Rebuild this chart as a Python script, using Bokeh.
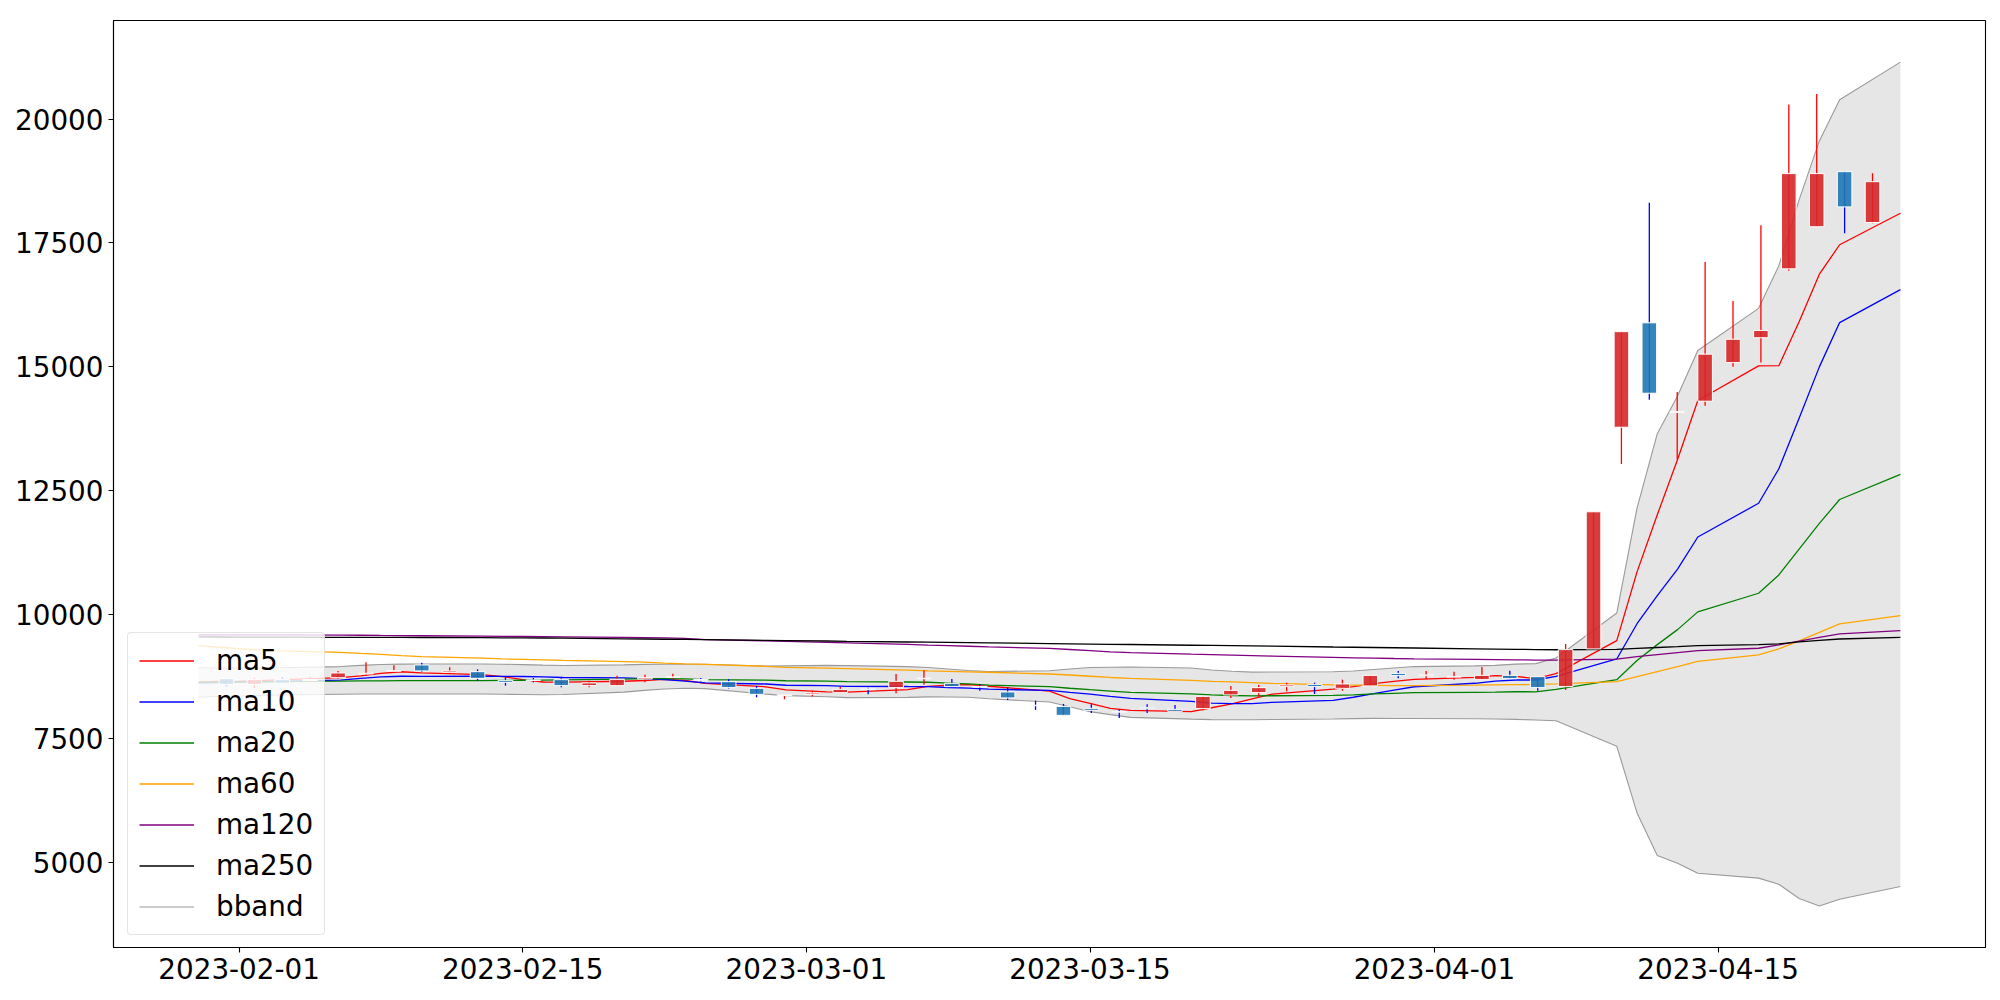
import numpy as np
import pandas as pd
from bokeh.plotting import figure
from bokeh.models import (Range1d, FixedTicker, DatetimeTickFormatter, Legend, LegendItem)
from bokeh.embed import file_html
from bokeh.resources import INLINE

dates = ["2023-01-30", "2023-01-31", "2023-02-01", "2023-02-02", "2023-02-03", "2023-02-06", "2023-02-07",
         "2023-02-08", "2023-02-09", "2023-02-10", "2023-02-13", "2023-02-14", "2023-02-15", "2023-02-16",
         "2023-02-17", "2023-02-20", "2023-02-21", "2023-02-22", "2023-02-23", "2023-02-24", "2023-02-27",
         "2023-02-28", "2023-03-02", "2023-03-03", "2023-03-06", "2023-03-07", "2023-03-08", "2023-03-09",
         "2023-03-10", "2023-03-13", "2023-03-14", "2023-03-15", "2023-03-16", "2023-03-17", "2023-03-20",
         "2023-03-21", "2023-03-22", "2023-03-23", "2023-03-24", "2023-03-27", "2023-03-28", "2023-03-29",
         "2023-03-30", "2023-03-31", "2023-04-03", "2023-04-04", "2023-04-05", "2023-04-06", "2023-04-07",
         "2023-04-10", "2023-04-11", "2023-04-12", "2023-04-13", "2023-04-14", "2023-04-17", "2023-04-18",
         "2023-04-19", "2023-04-20", "2023-04-21", "2023-04-24"]

open_ = [8706, 8590, 8686, 8668, 8726, 8800, 8855, 8983, 8835, 8848,
         8672, 8680, 8686, 8565, 8565, 8700, 8733, 8690, 8646, 8511,
         8365, 8390, 8424, 8500, 8525, 8705, 8612, 8550, 8438, 8170,
         8147, 8107, 8040, 8127, 8087, 8101, 8378, 8424, 8545, 8591,
         8511, 8559, 8813, 8765, 8740, 8686, 8773, 8747, 8545, 9306,
         13781, 15888, 14080, 14306, 15085, 15587, 16977, 17827, 18939, 17912]
high = [8712, 8725, 8741, 8747, 8862, 9035, 8975, 9027, 8934, 8894,
        8733, 8720, 8713, 8666, 8767, 8787, 8807, 8720, 8692, 8559,
        8385, 8464, 8545, 8525, 8801, 8874, 8700, 8599, 8531, 8262,
        8196, 8188, 8081, 8188, 8175, 8355, 8559, 8579, 8626, 8626,
        8686, 8780, 8862, 8862, 8848, 8942, 8868, 8750, 9407, 12074,
        15720, 18313, 14491, 17117, 16328, 17857, 20297, 20506, 18945, 18906]
low = [8551, 8520, 8605, 8632, 8706, 8767, 8842, 8842, 8807, 8660,
       8565, 8632, 8531, 8531, 8560, 8632, 8700, 8650, 8510, 8329,
       8289, 8349, 8418, 8390, 8410, 8585, 8540, 8464, 8277, 8075,
       7960, 8014, 7913, 8014, 8040, 8061, 8317, 8343, 8450, 8398,
       8464, 8555, 8713, 8692, 8686, 8686, 8700, 8464, 8478, 9300,
       13039, 14336, 13131, 14213, 15000, 15085, 16940, 17820, 17696, 17900]
close = [8591, 8686, 8612, 8690, 8821, 8815, 8870, 8862, 8862, 8712,
         8632, 8668, 8565, 8620, 8692, 8727, 8740, 8672, 8525, 8390,
         8383, 8418, 8490, 8485, 8652, 8715, 8545, 8535, 8317, 8160,
         7966, 8067, 8030, 8100, 8047, 8349, 8470, 8525, 8579, 8545,
         8599, 8773, 8767, 8780, 8745, 8773, 8706, 8525, 9292, 12074,
         15710, 14467, 14100, 15256, 15557, 15734, 18900, 18900, 18228, 18737]

ma5 = [8640, 8650, 8655, 8665, 8680, 8725, 8762, 8812, 8846, 8824,
       8788, 8747, 8688, 8639, 8635, 8654, 8669, 8690, 8671, 8611,
       8542, 8478, 8441, 8433, 8486, 8552, 8577, 8586, 8553, 8454,
       8305, 8209, 8108, 8065, 8042, 8119, 8199, 8298, 8394, 8494,
       8544, 8604, 8653, 8693, 8733, 8768, 8754, 8706, 8808, 9474,
       10861, 12014, 13129, 14321, 15018, 15023, 15909, 16869, 17464, 18100]
ma10 = [8620, 8628, 8635, 8642, 8650, 8675, 8712, 8742, 8755, 8752,
        8756, 8754, 8750, 8743, 8730, 8721, 8708, 8689, 8655, 8623,
        8598, 8573, 8566, 8552, 8548, 8547, 8528, 8514, 8493, 8470,
        8428, 8393, 8347, 8309, 8248, 8212, 8204, 8203, 8229, 8268,
        8331, 8402, 8475, 8543, 8613, 8656, 8679, 8679, 8751, 9103,
        9815, 10384, 10917, 11565, 12246, 12942, 13962, 14999, 15893, 16559]
ma20 = [8630, 8635, 8638, 8642, 8646, 8655, 8660, 8663, 8665, 8667,
        8668, 8670, 8674, 8678, 8683, 8698, 8706, 8708, 8700, 8688,
        8677, 8664, 8658, 8647, 8639, 8634, 8618, 8601, 8574, 8547,
        8513, 8483, 8456, 8430, 8398, 8379, 8366, 8358, 8361, 8369,
        8380, 8397, 8411, 8426, 8431, 8434, 8442, 8441, 8490, 8686,
        9073, 9393, 9696, 10054, 10430, 10799, 11320, 11839, 12322, 12831]
ma60 = [9372, 9340, 9310, 9285, 9265, 9237, 9215, 9195, 9170, 9150,
        9120, 9105, 9095, 9085, 9075, 9050, 9040, 9020, 9005, 8995,
        8955, 8935, 8920, 8910, 8880, 8865, 8855, 8845, 8835, 8800,
        8780, 8755, 8730, 8710, 8670, 8652, 8640, 8625, 8610, 8580,
        8575, 8570, 8567, 8565, 8575, 8580, 8585, 8590, 8600, 8646,
        8747, 8848, 8949, 9056, 9185, 9306, 9470, 9640, 9810, 9978]
ma120 = [9588, 9588, 9588, 9588, 9588, 9585, 9582, 9578, 9575, 9572,
         9563, 9560, 9557, 9554, 9551, 9540, 9535, 9528, 9518, 9495,
         9470, 9460, 9440, 9430, 9397, 9384, 9372, 9360, 9347, 9318,
         9295, 9270, 9245, 9232, 9200, 9192, 9182, 9172, 9162, 9135,
         9127, 9120, 9113, 9107, 9095, 9090, 9086, 9082, 9080, 9100,
         9150, 9190, 9230, 9270, 9320, 9390, 9465, 9540, 9608, 9675]
ma250 = [9548, 9547, 9546, 9545, 9544, 9541, 9540, 9539, 9538, 9537,
         9533, 9531, 9529, 9527, 9524, 9511, 9507, 9502, 9498, 9493,
         9480, 9475, 9466, 9460, 9446, 9442, 9437, 9433, 9428, 9415,
         9410, 9405, 9400, 9396, 9380, 9376, 9371, 9366, 9361, 9345,
         9340, 9335, 9330, 9325, 9308, 9303, 9298, 9293, 9290, 9298,
         9318, 9335, 9352, 9372, 9395, 9410, 9450, 9480, 9507, 9540]
bb_upper = [8925, 8922, 8920, 8920, 8925, 8950, 8975, 8992, 9000, 9003,
            9003, 8998, 8990, 8980, 8972, 8985, 8995, 8997, 8997, 8997,
            8960, 8965, 8975, 8970, 8950, 8930, 8900, 8870, 8850, 8865,
            8900, 8930, 8935, 8940, 8920, 8880, 8855, 8838, 8840, 8845,
            8860, 8890, 8920, 8950, 8965, 8975, 9000, 9010, 9124, 10030,
            12150, 13650, 14410, 15330, 16180, 17040, 18370, 19560, 20390, 21150]
bb_lower = [8330, 8345, 8355, 8365, 8375, 8390, 8395, 8397, 8397, 8397,
            8395, 8390, 8385, 8380, 8385, 8435, 8470, 8498, 8512, 8505,
            8394, 8363, 8341, 8324, 8328, 8338, 8336, 8330, 8300, 8235,
            8140, 8040, 7980, 7925, 7890, 7880, 7878, 7878, 7882, 7893,
            7900, 7905, 7902, 7902, 7897, 7893, 7884, 7872, 7856, 7342,
            5996, 5136, 4982, 4778, 4680, 4558, 4270, 4118, 4254, 4512]

y_ticks = [5000, 7500, 10000, 12500, 15000, 17500, 20000]
x_tick_labels = ["2023-02-01", "2023-02-15", "2023-03-01", "2023-03-15", "2023-04-01", "2023-04-15"]

t = pd.to_datetime(dates)
n = len(t)
step = (t[-1] - t[0]) / (n + 1)
cx = [t[0] + step * (k + 1) for k in range(n)]
up = [c >= o for o, c in zip(open_, close)]
body_top = [max(o, c) for o, c in zip(open_, close)]
body_bot = [min(o, c) for o, c in zip(open_, close)]
body_col = ["#d62728" if u else "#1f77b4" for u in up]
wick_col = ["red" if u else "blue" for u in up]

FONT = "DejaVu Sans"
FS = "27.8px"

p = figure(width=2000, height=997, x_axis_type="datetime", output_backend="svg", toolbar_location=None,
           x_range=Range1d(pd.Timestamp("2023-01-25 19:12"), pd.Timestamp("2023-04-28 04:48")),
           y_range=Range1d(3280, 21990),
           min_border_left=113, min_border_right=15, min_border_top=20, min_border_bottom=50)
p.xgrid.visible = False
p.ygrid.visible = False
p.outline_line_color = "black"
p.outline_line_width = 1.1
p.background_fill_color = "white"
p.border_fill_color = "white"

band = p.varea(x=t, y1=bb_lower, y2=bb_upper, fill_color="#808080", fill_alpha=0.2)
bu = p.line(t, bb_upper, line_color="#9a9a9a", line_width=1.1)
bl = p.line(t, bb_lower, line_color="#9a9a9a", line_width=1.1)

r5 = p.line(t, ma5, line_color="red", line_width=1.3)
r10 = p.line(t, ma10, line_color="blue", line_width=1.3)
r20 = p.line(t, ma20, line_color="green", line_width=1.3)
r60 = p.line(t, ma60, line_color="orange", line_width=1.3)
r120 = p.line(t, ma120, line_color="purple", line_width=1.3)
r250 = p.line(t, ma250, line_color="black", line_width=1.3)

p.segment(x0=cx, y0=low, x1=cx, y1=high, line_color=wick_col, line_width=1.3)
p.vbar(x=cx, width=0.72 * 86400000, top=body_top, bottom=body_bot, fill_color=body_col,
       fill_alpha=0.9, line_color="white", line_width=1)

tick_ms = [pd.Timestamp(s).value // 10**6 for s in x_tick_labels]
p.xaxis.ticker = FixedTicker(ticks=tick_ms)
fmt = "%Y-%m-%d"
p.xaxis.formatter = DatetimeTickFormatter(milliseconds=fmt, seconds=fmt, minsec=fmt, minutes=fmt,
                                          hourmin=fmt, hours=fmt, days=fmt, months=fmt, years=fmt)
p.yaxis.ticker = FixedTicker(ticks=y_ticks)
for ax in (p.xaxis, p.yaxis):
    ax.major_label_text_font = FONT
    ax.major_label_text_font_size = FS
    ax.major_label_text_color = "black"
    ax.major_tick_out = 5
    ax.major_tick_in = 0
    ax.major_tick_line_color = "black"
    ax.major_tick_line_width = 1.1
    ax.minor_tick_line_color = None
    ax.axis_line_color = "black"
    ax.axis_line_width = 1.1
    ax.major_label_standoff = 5

legend = Legend(items=[
    LegendItem(label="ma5", renderers=[r5]),
    LegendItem(label="ma10", renderers=[r10]),
    LegendItem(label="ma20", renderers=[r20]),
    LegendItem(label="ma60", renderers=[r60]),
    LegendItem(label="ma120", renderers=[r120]),
    LegendItem(label="ma250", renderers=[r250]),
    LegendItem(label="bband", renderers=[bu]),
], location=(14, 12), label_text_font=FONT, label_text_font_size=FS, label_text_color="black",
    glyph_width=55, glyph_height=27, label_height=27, spacing=8, padding=11, label_standoff=22,
    background_fill_alpha=0.8, border_line_color="#cccccc", border_line_width=1, margin=0)
if "border_radius" in Legend.properties():
    legend.border_radius = 4
p.add_layout(legend)

open("out.html", "w").write(file_html(p, INLINE))
